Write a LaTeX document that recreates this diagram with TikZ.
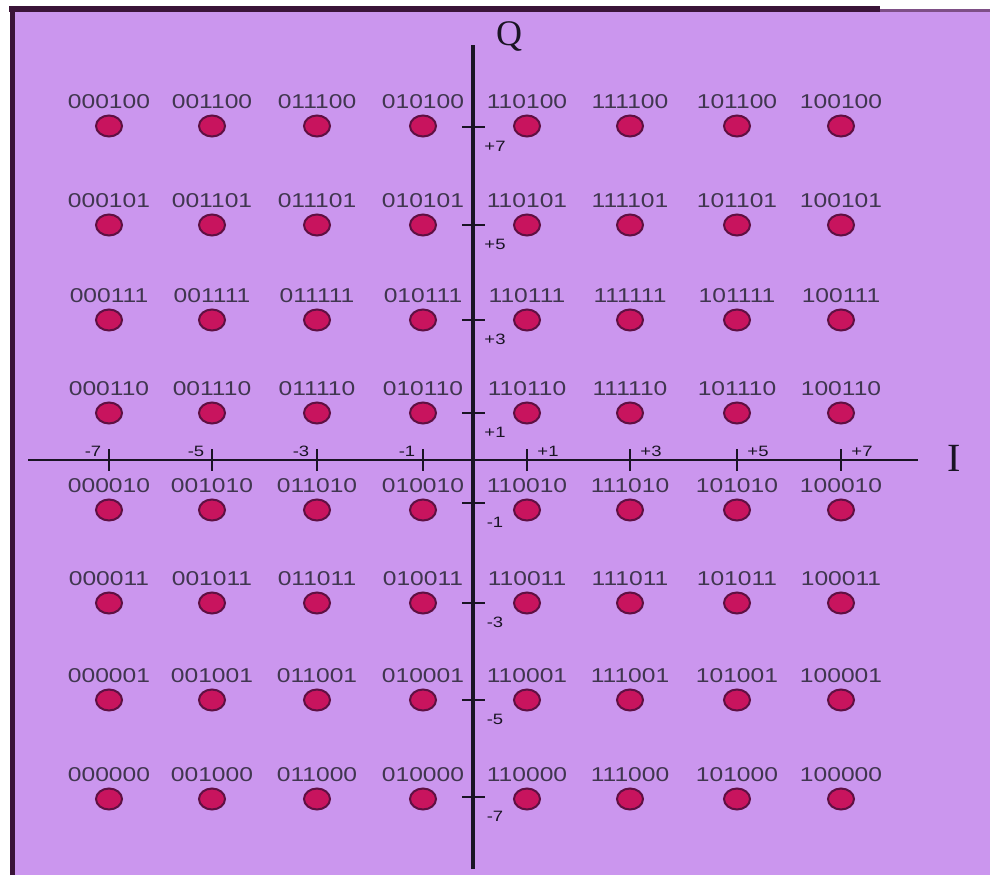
\documentclass[tikz,border=0pt]{standalone}
\usepackage{fontspec}
\setmainfont{Liberation Serif}
\newfontfamily\bitfont[FakeStretch=1.23]{Liberation Sans}
\usetikzlibrary{positioning,shapes.geometric}
\definecolor{plane}{HTML}{CB96EE}
\definecolor{frame}{HTML}{3A1438}
\definecolor{frametop}{HTML}{7E4F86}
\definecolor{dotfill}{HTML}{C8145E}
\definecolor{dotline}{HTML}{5E1042}
\definecolor{ink}{HTML}{1A1424}
\definecolor{bits}{HTML}{40364F}

\begin{document}
\begin{tikzpicture}[x=1pt,y=1pt,
 symbol/.style={ellipse,draw=dotline,fill=dotfill,line width=2pt,minimum width=26pt,minimum height=21pt,inner sep=0pt,outer sep=0pt},
 bitlabel/.style={font=\bitfont\fontsize{20}{20}\selectfont,text=bits,inner sep=0pt},
 ticklabel/.style={font=\bitfont\fontsize{15}{15}\selectfont,text=ink,inner sep=0pt},
 axis/.style={draw=ink,line width=2.6pt},
 tickmark/.style={draw=ink,line width=2.4pt}]
 % page and frame
 \useasboundingbox (0,0) rectangle (990,875);
 \fill[white] (0,0) rectangle (990,875);
 \fill[plane] (12,0) rectangle (990,864);
 \draw[frame,line width=5pt] (12,0) -- (12,866);
 \draw[frame,line width=6pt] (9,866) -- (880,866);
 \draw[frametop,line width=3pt] (880,864) -- (990,864);
 % axes
 \coordinate (west) at (28,415);
 \coordinate (east) at (918,415);
 \coordinate (south) at (473,6);
 \coordinate (north) at (473,830);
 \draw[axis] (west) -- (east);
 \draw[axis,line width=3.4pt] (south) -- (north);
 \node[font=\fontsize{36}{36}\selectfont,text=ink,inner sep=0pt] (qname) at (509,838) {Q};
 \node[font=\fontsize{40}{40}\selectfont,text=ink,inner sep=0pt] (iname) at (954,417) {I};
 % constellation points
 \foreach \cx/\cb [count=\i] in {109/000,212/001,317/011,423/010,527/110,630/111,737/101,841/100}
  \foreach \ry/\rb [count=\j] in {749/100,650/101,555/111,462/110,365/010,272/011,175/001,76/000}{
   \node[symbol] (s\i\j) at (\cx,\ry) {};
   \node[bitlabel,above=7pt of s\i\j] (b\i\j) {\cb\rb};
  }
 % ticks on I
 \foreach \cx/\val [count=\i] in {109/-7,212/-5,317/-3,423/-1}{
  \coordinate (t\i) at (\cx,415);
  \draw[tickmark] ([yshift=-11pt]t\i) -- ([yshift=11pt]t\i);
  \node[ticklabel] (tl\i) at ([xshift=-16pt,yshift=9pt]t\i) {\val};
 }
 \foreach \cx/\val [count=\i from 5] in {527/+1,630/+3,737/+5,841/+7}{
  \coordinate (t\i) at (\cx,415);
  \draw[tickmark] ([yshift=-11pt]t\i) -- ([yshift=11pt]t\i);
  \node[ticklabel] (tl\i) at ([xshift=21pt,yshift=9pt]t\i) {\val};
 }
 % ticks on Q
 \foreach \ry/\val [count=\j] in {748/+7,650/+5,555/+3,462/+1,372/-1,272/-3,175/-5,78/-7}{
  \coordinate (q\j) at (473,\ry);
  \draw[tickmark] ([xshift=-11pt]q\j) -- ([xshift=12pt]q\j);
  \node[ticklabel] (ql\j) at ([xshift=22pt,yshift=-19pt]q\j) {\val};
 }
\end{tikzpicture}
\end{document}
